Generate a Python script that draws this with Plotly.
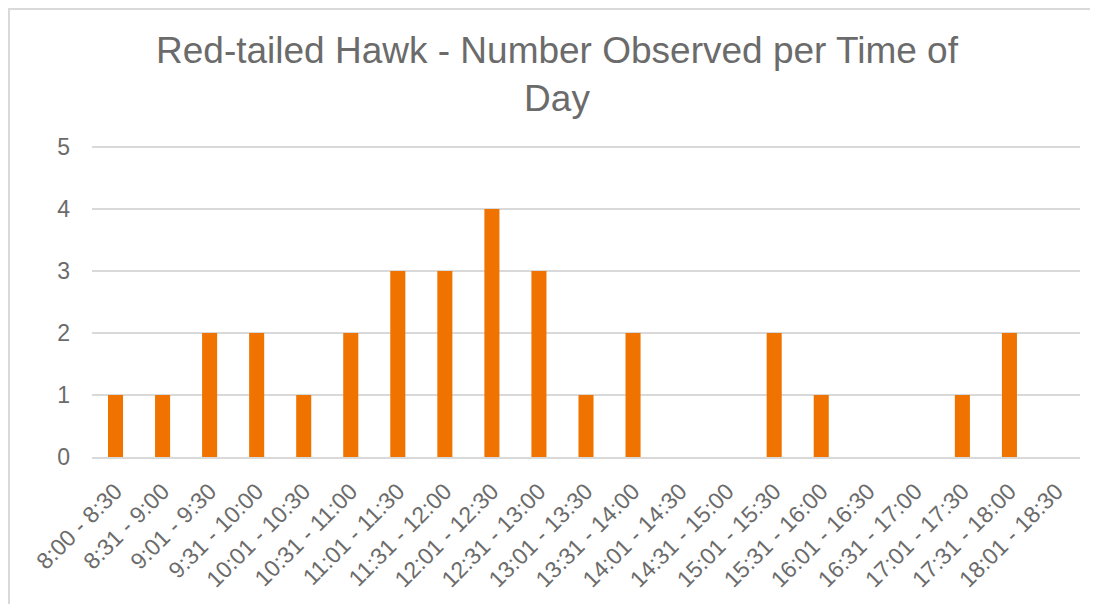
import plotly.graph_objects as go

categories = ["8:00 - 8:30", "8:31 - 9:00", "9:01 - 9:30", "9:31 - 10:00", "10:01 - 10:30",
              "10:31 - 11:00", "11:01 - 11:30", "11:31 - 12:00", "12:01 - 12:30", "12:31 - 13:00",
              "13:01 - 13:30", "13:31 - 14:00", "14:01 - 14:30", "14:31 - 15:00", "15:01 - 15:30",
              "15:31 - 16:00", "16:01 - 16:30", "16:31 - 17:00", "17:01 - 17:30", "17:31 - 18:00",
              "18:01 - 18:30"]
counts = [1, 1, 2, 2, 1, 2, 3, 3, 4, 3, 1, 2, 0, 0, 2, 1, 0, 0, 1, 2, 0]
y_ticks = [0, 1, 2, 3, 4, 5]
title_text = "Red-tailed Hawk - Number Observed per Time of<br>Day"

# page body has an 8px margin, so the figure is offset by 8px
W, H = 1090, 596
L, R, T, B = 84, 18, 137, 147
PW, PH = W - L - R, H - T - B
text_color = "#6b6b6b"
font = "Liberation Sans, Arial, sans-serif"
y_max = 5.03

fig = go.Figure(go.Bar(x=categories, y=counts, marker=dict(color="#F07300", line=dict(width=0)),
                       hoverinfo="x+y"))

fig.update_layout(
    width=W, height=H,
    margin=dict(l=L, r=R, t=T, b=B),
    paper_bgcolor="white", plot_bgcolor="white",
    bargap=0.68,
    showlegend=False,
    font=dict(family=font, color=text_color),
)
fig.add_annotation(text=title_text, xref="paper", yref="paper",
                   x=(549 - L) / PW, y=1 + (T - 20) / PH, xanchor="center", yanchor="top",
                   showarrow=False, align="center",
                   font=dict(family=font, size=37, color=text_color))

fig.update_xaxes(tickangle=-45, tickfont=dict(size=23, color=text_color), showgrid=False,
                 showline=True, linecolor="#D9D9D9", linewidth=1.5, ticks="",
                 ticklabelstandoff=10, type="category")
fig.update_yaxes(range=[0, y_max], tickvals=y_ticks, tickfont=dict(size=23, color=text_color),
                 showgrid=True, gridcolor="#D9D9D9", gridwidth=1.5, zeroline=False,
                 showline=False, ticks="", ticklabelstandoff=21)

# chart frame (partially visible: left and top edges)
fig.add_shape(type="rect", xref="paper", yref="paper",
              x0=(1 - L) / PW, x1=(W + 20 - L) / PW,
              y0=-(H + 20 - (H - B)) / PH, y1=1 + (T - 1) / PH,
              line=dict(color="#D9D9D9", width=2), fillcolor="rgba(0,0,0,0)", layer="below")

fig.write_html("out.html")
